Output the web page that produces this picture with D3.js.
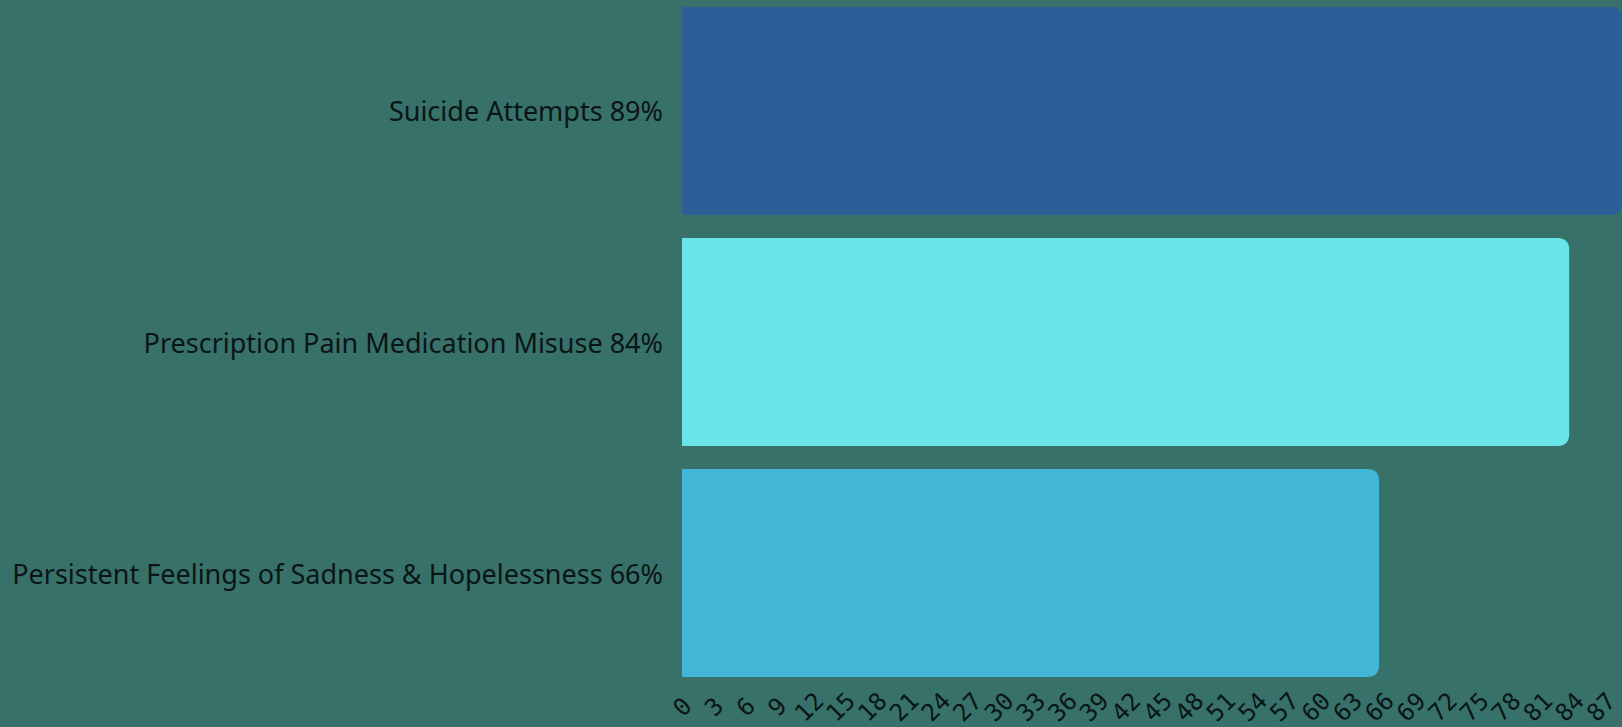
<!DOCTYPE html>
<html>
<head>
<meta charset="utf-8">
<script src="https://cdn.jsdelivr.net/npm/d3@7"></script>
<style>
  html, body { margin: 0; padding: 0; background: #377169; }
  svg { display: block; }
</style>
</head>
<body>
<svg id="chart" width="1622" height="727"></svg>
<script>
// chart data
const categories = [
    "Suicide Attempts 89%",
    "Prescription Pain Medication Misuse 84%",
    "Persistent Feelings of Sadness & Hopelessness 66%"
];
const values = [89, 84, 66];
const barColors = ["#2d5e98", "#6ae5e8", "#41b6d6"];
const tickValues = [0, 3, 6, 9, 12, 15, 18, 21, 24, 27, 30, 33, 36, 39, 42, 45,
    48, 51, 54, 57, 60, 63, 66, 69, 72, 75, 78, 81, 84, 87];

const width = 1622, height = 727;
const margin = { left: 682, right: 0, top: 7, bottom: 50 };

const svg = d3.select("#chart");

svg.append("rect")
    .attr("width", width)
    .attr("height", height)
    .attr("fill", "#377169");

let xScale = d3.scaleLinear()
    .domain([0, 89])
    .range([margin.left, width - margin.right]);

let yScale = d3.scaleBand()
    .domain(categories)
    .range([margin.top, height - margin.bottom])
    .paddingInner(0.1)
    .paddingOuter(0);

// bar with only the right corners rounded
function barPath(x0, x1, y0, y1, r) {
    r = Math.min(r, (x1 - x0), (y1 - y0) / 2);
    return `M${x0},${y0}H${x1 - r}Q${x1},${y0} ${x1},${y0 + r}` +
        `V${y1 - r}Q${x1},${y1} ${x1 - r},${y1}H${x0}Z`;
}

svg.append("g")
    .selectAll("path")
    .data(values)
    .join("path")
    .attr("d", (d, i) => barPath(xScale(0), xScale(d),
        yScale(categories[i]), yScale(categories[i]) + yScale.bandwidth(), 12))
    .attr("fill", (d, i) => barColors[i]);

// category labels
svg.append("g")
    .selectAll("text")
    .data(categories)
    .join("text")
    .attr("x", xScale(0) - 19)
    .attr("y", d => yScale(d) + yScale.bandwidth() / 2)
    .attr("text-anchor", "end")
    .attr("dominant-baseline", "central")
    .attr("font-family", "'Noto Sans', sans-serif")
    .attr("font-size", "27px")
    .attr("fill", "#0a1515")
    .text(d => d);

// x axis, rotated tick labels
let xAxis = d3.axisBottom(xScale)
    .tickValues(tickValues)
    .tickSize(0)
    .tickPadding(0);

let gX = svg.append("g")
    .attr("transform", `translate(0, ${height - margin.bottom})`)
    .call(xAxis);

gX.select(".domain").remove();
gX.selectAll(".tick text")
    .attr("y", 0)
    .attr("dy", null)
    .attr("text-anchor", "middle")
    .attr("dominant-baseline", "central")
    .attr("transform", "translate(0, 30) rotate(-45)")
    .attr("font-family", "'DejaVu Sans Mono', monospace")
    .attr("font-size", "24px")
    .attr("fill", "#0a1515");
</script>
</body>
</html>
